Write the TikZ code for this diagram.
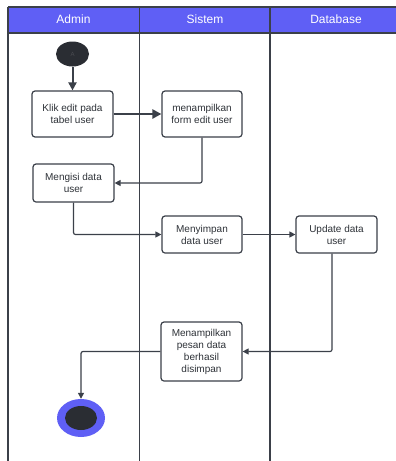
\documentclass[tikz,border=0pt]{standalone}
\usepackage{fontspec}
\setmainfont{Liberation Sans}
\usetikzlibrary{arrows.meta,shapes.geometric}
\definecolor{lanehead}{HTML}{5F5FF5}
\definecolor{darkfill}{HTML}{2A2D33}
\definecolor{linec}{HTML}{3B4049}
\definecolor{txtc}{HTML}{2E3238}
\begin{document}
\begin{tikzpicture}[x=1pt,y=-1pt,
  actbox/.style={draw=linec, line width=1.2pt, rounded corners=3pt, fill=white,
    font=\fontsize{10}{12}\selectfont, text=txtc, align=center, inner sep=0pt},
  flow/.style={draw=linec, line width=1.2pt, rounded corners=2pt,
    -{Triangle[width=6pt,length=6pt]}},
  lane/.style={draw=linec, line width=1.3pt},
  headtxt/.style={text=white, font=\fontsize{12}{14}\selectfont, inner sep=0pt}]
\useasboundingbox (0,0) rectangle (396,461);
\clip (0,0) rectangle (396,461);
% swimlanes
\fill[white] (0,0) rectangle (396,461);
\fill[lanehead] (8,7) rectangle (400,33);
\draw[lane] (8,7) -- (400,7);
\draw[lane] (8,33) -- (400,33);
\draw[lane] (8,7) -- (8,470);
\draw[lane] (139.5,7) -- (139.5,470);
\draw[lane] (270,7) -- (270,470);
\node[headtxt] (hA) at (73.5,19) {Admin};
\node[headtxt] (hS) at (205,19) {Sistem};
\node[headtxt] (hD) at (336,19) {Database};
% start
\node[ellipse, fill=darkfill, minimum width=33pt, minimum height=25pt, inner sep=0pt,
  text=darkfill!85!white, font=\fontsize{6}{6}\selectfont] (start) at (72.5,54) {A};
% activities
\node[actbox, minimum width=81pt, minimum height=46pt] (b1) at (72.5,114) {Klik edit pada\\tabel user};
\node[actbox, minimum width=80pt, minimum height=46pt] (b2) at (202,114) {menampilkan\\form edit user};
\node[actbox, minimum width=81pt, minimum height=38pt] (b3) at (73.5,183) {Mengisi data\\user};
\node[actbox, minimum width=80pt, minimum height=37pt] (b4) at (202,234.5) {Menyimpan\\data user};
\node[actbox, minimum width=81pt, minimum height=37pt] (b5) at (336.5,234.5) {Update data\\user};
\node[actbox, minimum width=81pt, minimum height=59pt] (b6) at (201.5,351.5) {Menampilkan\\pesan data\\berhasil\\disimpan};
% end
\node[ellipse, fill=lanehead, minimum width=48pt, minimum height=38pt, inner sep=0pt] (end) at (81,418) {};
\node[ellipse, fill=darkfill, minimum width=32pt, minimum height=24pt, inner sep=0pt] (endin) at (end.center) {};
% connectors
\draw[flow, line width=2pt, -{Triangle[width=8pt,length=8pt]}] (start) -- (b1);
\draw[flow, line width=2.4pt, -{Triangle[width=9pt,length=9pt]}] (b1) -- (b2);
\draw[flow] (b2.south) |- (b3.east);
\draw[flow] (b3.south) |- (b4.west);
\draw[flow] (b4) -- (b5);
\draw[flow] ([xshift=-4.5pt]b5.south) |- (b6.east);
\draw[flow] (b6.west) -| (end.north);
\end{tikzpicture}
\end{document}
